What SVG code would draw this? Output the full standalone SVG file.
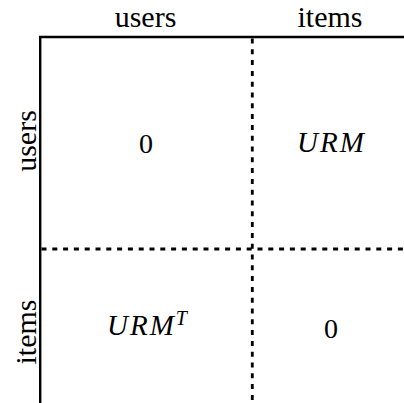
<svg xmlns="http://www.w3.org/2000/svg" width="404" height="403" viewBox="0 0 404 403">
<style>
.lbl{font-family:"Liberation Serif","DejaVu Serif",serif;font-size:30px;fill:#000;text-anchor:middle}
.math{font-family:"Liberation Serif","DejaVu Serif",serif;font-size:29px;font-style:italic;fill:#000;letter-spacing:2px}
.num{font-family:"Liberation Serif","DejaVu Serif",serif;font-size:28px;fill:#000;text-anchor:middle}
.solid{stroke:#000;stroke-width:2.4;fill:none}
.dash{stroke:#000;stroke-width:2.8;fill:none;stroke-dasharray:5 5.8}
</style>
<rect width="404" height="403" fill="#fff"/>
<g id="connectors">
<path class="solid" d="M40.2 403 V37 H404"/>
<path class="dash" d="M252.3 38.5 V403"/>
<path class="dash" d="M41.5 249 H404"/>
</g>
<g id="header-users"><text class="lbl" x="145.5" y="27">users</text></g>
<g id="header-items"><text class="lbl" x="330" y="27">items</text></g>
<g id="row-users"><text class="lbl" transform="translate(36,141) rotate(-90)" x="0" y="0">users</text></g>
<g id="row-items"><text class="lbl" transform="translate(36,332) rotate(-90)" x="0" y="0">items</text></g>
<g id="cell-uu"><text class="num" x="146" y="152.5">0</text></g>
<g id="cell-ui"><text class="math" x="297" y="152">URM</text></g>
<g id="cell-iu"><text class="math" x="107" y="335">URM<tspan font-size="20" dy="-10">T</tspan></text></g>
<g id="cell-ii"><text class="num" x="331" y="338">0</text></g>
</svg>
